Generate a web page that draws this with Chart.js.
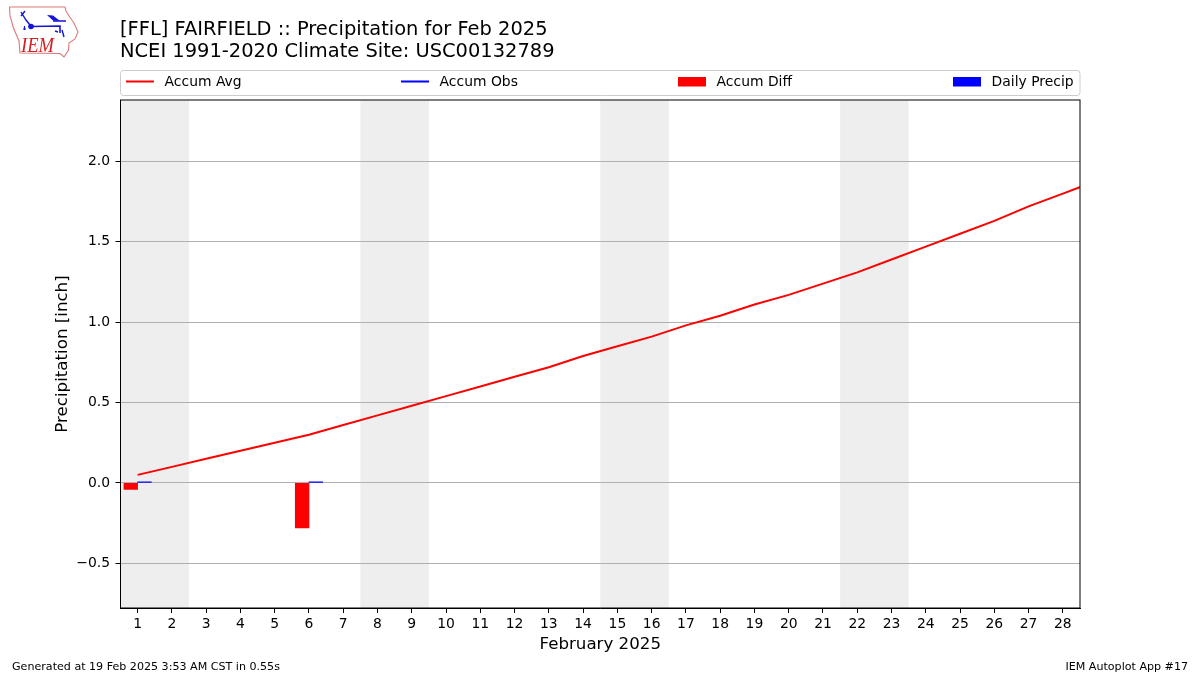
<!DOCTYPE html>
<html>
<head>
<meta charset="utf-8">
<title>FFL Precipitation Feb 2025</title>
<script src="https://cdn.jsdelivr.net/npm/chart.js@4/dist/chart.umd.min.js"></script>
<style>
  html, body { margin: 0; padding: 0; background: #fff; }
  #wrap { position: relative; width: 1200px; height: 675px; overflow: hidden; }
  canvas { position: absolute; left: 0; top: 0; }
  #logo { position: absolute; left: 0; top: 0; }
</style>
</head>
<body>
<div id="wrap">
  <canvas id="chart" width="1200" height="675"></canvas>
  <svg id="logo" width="90" height="65" viewBox="0 0 90 65">
    <path d="M9.5 7 L65 7 L66 11 L69 16 L74 23 L78 32 L75 39 L69 43 L68.5 50 L64 57 L60 53.5 L20 53 L19 41 L13.5 28 L10 16 Z"
          fill="#fff" stroke="#e07878" stroke-width="1.1"/>
    <g stroke="#1414d8" fill="#1414d8">
      <path d="M31 26.5 L60 26 L60 33" stroke-width="1.6" fill="none"/>
      <path d="M21 12 L26 20 L30 25 M21 16 L25 11" stroke-width="1.4" fill="none"/>
      <circle cx="31" cy="26.5" r="2.8" stroke="none"/>
      <path d="M47 15 L53 15.5 L60 21 L53 20.5 Z" stroke="none"/>
      <path d="M53 21 L66 21 M55 31 L58 32 M62 30 L64 37" stroke-width="1.4" fill="none"/>
      <path d="M23 29 L26 29 M24.5 26 L24.5 30" stroke-width="1.2" fill="none"/>
    </g>
    <text x="21" y="52" font-family="Liberation Serif" font-style="italic" font-size="20" textLength="33" lengthAdjust="spacingAndGlyphs" fill="#d42020">IEM</text>
  </svg>
</div>
<script>
// Chart Data
const days = [1, 2, 3, 4, 5, 6, 7, 8, 9, 10, 11, 12, 13, 14, 15, 16, 17, 18, 19, 20, 21, 22, 23, 24, 25, 26, 27, 28, 29];
const tickDays = [1, 2, 3, 4, 5, 6, 7, 8, 9, 10, 11, 12, 13, 14, 15, 16, 17, 18, 19, 20, 21, 22, 23, 24, 25, 26, 27, 28];
const accumAvg = [0.05, 0.10, 0.15, 0.20, 0.25, 0.30, 0.36, 0.42, 0.48, 0.54, 0.60, 0.66, 0.72, 0.79, 0.85,
    0.91, 0.98, 1.04, 1.11, 1.17, 1.24, 1.31, 1.39, 1.47, 1.55, 1.63, 1.72, 1.80, 1.88];
const accumObs = [];
const barDays = [1, 6];
const accumDiff = [-0.04, -0.28];
const dailyPrecip = [0.007, 0.007];
const weekends = [[0.5, 2.5], [7.5, 9.5], [14.5, 16.5], [21.5, 23.5]];
const titleLines = ['[FFL] FAIRFIELD :: Precipitation for Feb 2025', 'NCEI 1991-2020 Climate Site: USC00132789'];
const footerLeft = 'Generated at 19 Feb 2025 3:53 AM CST in 0.55s';
const footerRight = 'IEM Autoplot App #17';

const FONT = '"DejaVu Sans"';

function pairs(xs, ys) {
    return ys.map((y, i) => ({ x: xs[i], y: y }));
}

// weekend bands, under the grid
const bandPlugin = {
    id: 'bands',
    beforeDraw(chart) {
        const { ctx, chartArea: a, scales: { x } } = chart;
        ctx.save();
        ctx.fillStyle = '#eeeeee';
        weekends.forEach(w => {
            const x0 = x.getPixelForValue(w[0]);
            ctx.fillRect(x0, a.top, x.getPixelForValue(w[1]) - x0, a.bottom - a.top);
        });
        ctx.restore();
    }
};

// title, legend box, footer and the top/right spines
const framePlugin = {
    id: 'frame',
    afterDraw(chart) {
        const { ctx, chartArea: a } = chart;
        ctx.save();

        ctx.strokeStyle = '#000';
        ctx.lineWidth = 1;
        ctx.strokeRect(a.left, a.top, a.right - a.left, a.bottom - a.top);

        ctx.fillStyle = '#000';
        ctx.textBaseline = 'alphabetic';
        ctx.textAlign = 'left';
        ctx.font = '19.44px ' + FONT;
        ctx.fillText(titleLines[0], 120, 35);
        ctx.fillText(titleLines[1], 120, 57);

        // legend
        ctx.strokeStyle = '#cccccc';
        ctx.beginPath();
        ctx.roundRect(120.5, 70.5, 959.5, 25, 3);
        ctx.stroke();
        const handles = [126, 401, 678, 953];
        chart.data.datasets.forEach((ds, i) => {
            const hx = handles[i];
            if (ds.type === 'line') {
                ctx.strokeStyle = ds.borderColor;
                ctx.lineWidth = 2;
                ctx.beginPath();
                ctx.moveTo(hx, 81.5);
                ctx.lineTo(hx + 28, 81.5);
                ctx.stroke();
            } else {
                ctx.fillStyle = ds.backgroundColor;
                ctx.fillRect(hx, 77, 28, 9.5);
            }
            ctx.fillStyle = '#000';
            ctx.font = '13.9px ' + FONT;
            ctx.textBaseline = 'middle';
            ctx.fillText(ds.label, hx + 38.6, 82);
        });

        ctx.textBaseline = 'alphabetic';
        ctx.font = '11.1px ' + FONT;
        ctx.fillText(footerLeft, 12, 670);
        ctx.textAlign = 'right';
        ctx.fillText(footerRight, 1188, 670);
        ctx.restore();
    }
};

// Chart Configuration
const config = {
    data: {
        datasets: [
            { type: 'line', label: 'Accum Avg', data: pairs(days, accumAvg), borderColor: '#ff0000', borderWidth: 2, pointRadius: 0, tension: 0, order: 1 },
            { type: 'line', label: 'Accum Obs', data: accumObs, borderColor: '#0000ff', borderWidth: 2, pointRadius: 0, order: 2 },
            { type: 'bar', label: 'Accum Diff', data: pairs(barDays, accumDiff), backgroundColor: '#ff0000', barThickness: 13.7, order: 3 },
            { type: 'bar', label: 'Daily Precip', data: pairs(barDays, dailyPrecip), backgroundColor: '#0000ff', barThickness: 13.7, order: 4 }
        ]
    },
    options: {
        responsive: false,
        animation: false,
        devicePixelRatio: 1,
        layout: { padding: { left: 0, right: 120, top: 100, bottom: 0 } },
        plugins: { legend: { display: false }, tooltip: { enabled: false } },
        scales: {
            x: {
                type: 'linear',
                min: 0.5,
                max: 28.5,
                offset: false,
                bounds: 'data',
                afterFit(scale) { scale.height = 67; },
                afterBuildTicks(scale) { scale.ticks = tickDays.map(d => ({ value: d })); },
                border: { color: '#000', width: 1 },
                grid: { offset: false, drawOnChartArea: false, tickLength: 5, tickColor: '#000' },
                ticks: {
                    autoSkip: false,
                    maxRotation: 0,
                    padding: 3,
                    color: '#000',
                    font: { family: FONT, size: 13.9 }
                },
                title: { display: true, text: 'February 2025', color: '#000', font: { family: FONT, size: 16.67 }, padding: { top: 4, bottom: 20 } }
            },
            y: {
                type: 'linear',
                min: -0.778,
                max: 2.382,
                afterFit(scale) { scale.width = 120.5; },
                border: { color: '#000', width: 1 },
                grid: { color: '#b0b0b0', lineWidth: 1, tickLength: 5, tickColor: '#000' },
                ticks: {
                    stepSize: 0.5,
                    includeBounds: false,
                    padding: 5.5,
                    color: '#000',
                    font: { family: FONT, size: 13.9 },
                    callback: v => (v < 0 ? '\u2212' : '') + Math.abs(v).toFixed(1)
                },
                title: { display: true, text: 'Precipitation [inch]', color: '#000', font: { family: FONT, size: 16.67 }, padding: { top: 53, bottom: 4 } }
            }
        }
    },
    plugins: [bandPlugin, framePlugin]
};

// Create Chart
const chart = new Chart(document.getElementById('chart'), config);
</script>
</body>
</html>
